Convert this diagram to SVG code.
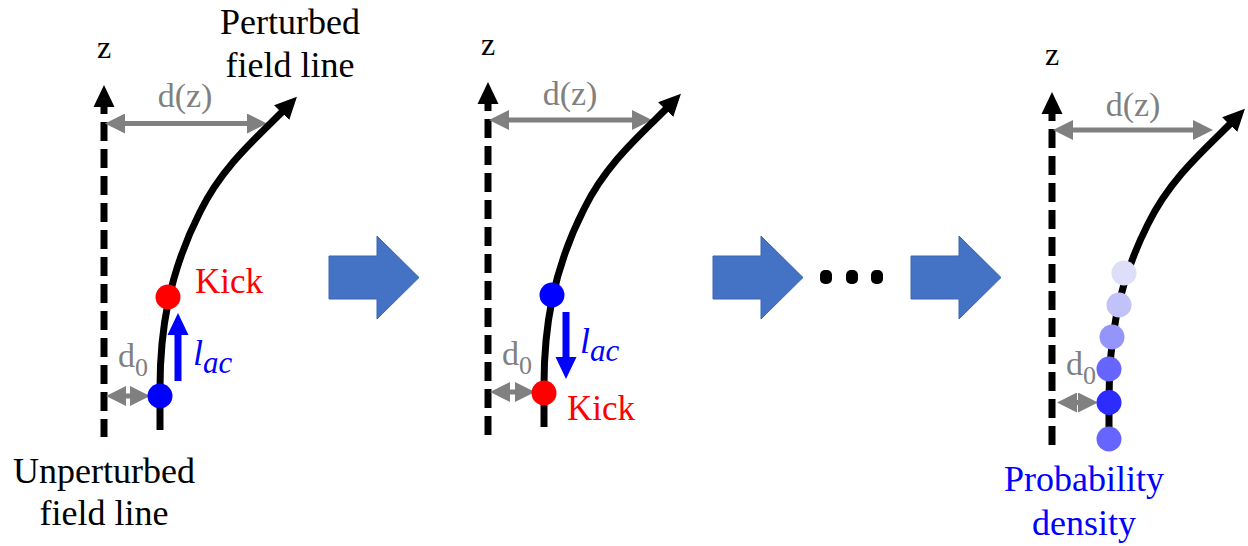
<svg xmlns="http://www.w3.org/2000/svg" width="1248" height="546" viewBox="0 0 1248 546">
<defs>
<style>
.t{font-family:"Liberation Serif","Times New Roman",serif;fill:#000}
.lbl{font-size:36px}
.kick{font-size:35px;fill:#ff0000}
.z{font-size:32px}
.dz{font-size:34px;fill:#808080}
.d0{font-size:34px;fill:#808080}
.lac{font-size:36px;fill:#0000ff;font-style:italic}
.blue{fill:#0000ff}
.axis{stroke:#000;stroke-width:7;fill:none;stroke-dasharray:19 8}
.curve{stroke:#000;stroke-width:7;fill:none}
.dim{stroke:#808080;stroke-width:5;fill:none}
.lacarrow{stroke:#0000ff;stroke-width:7;fill:none}
.block{fill:#4472C4;stroke:#3A64B0;stroke-width:1}
</style>
<marker id="ahB" markerUnits="userSpaceOnUse" viewBox="0 -11 22 22" refX="12" refY="0" markerWidth="22" markerHeight="22" orient="auto-start-reverse">
<path d="M0,-10.5 L22,0 L0,10.5 z" fill="#000"/>
</marker>
<marker id="ahG" markerUnits="userSpaceOnUse" viewBox="0 -10 20 20" refX="11" refY="0" markerWidth="20" markerHeight="20" orient="auto-start-reverse">
<path d="M0,-10 L20,0 L0,10 z" fill="#808080"/>
</marker>
<marker id="ahL" markerUnits="userSpaceOnUse" viewBox="0 -11 22 22" refX="10" refY="0" markerWidth="22" markerHeight="22" orient="auto">
<path d="M0,-10.5 L22,0 L0,10.5 z" fill="#0000ff"/>
</marker>
</defs>

<!-- Panel 1 -->
<g id="panel1">
<text class="t z" x="104" y="58" text-anchor="middle">z</text>
<path class="axis" d="M104 95 L104 437" marker-start="url(#ahB)"/>
<text class="t dz" x="185" y="107" text-anchor="middle">d(z)</text>
<line class="dim" x1="114" y1="123.5" x2="258" y2="123.5" marker-start="url(#ahG)" marker-end="url(#ahG)"/>
<path class="curve" d="M160 430 L160 388 C160 333 168 275 200 212 C224 163 262 133 290 104" marker-end="url(#ahB)"/>
<text class="t d0" x="118" y="367">d<tspan font-size="26" dy="9">0</tspan></text>
<line class="dim" x1="115" y1="396" x2="141" y2="396" marker-start="url(#ahG)" marker-end="url(#ahG)"/>
<line class="lacarrow" x1="178" y1="381" x2="178" y2="325" marker-end="url(#ahL)"/>
<text class="t lac" x="193" y="365">l<tspan font-size="31" dy="8">ac</tspan></text>
<circle cx="168" cy="297" r="12.5" fill="#ff0000"/>
<circle cx="160" cy="396" r="12.5" fill="#0000ff"/>
<text class="t kick" x="195" y="293">Kick</text>
<text class="t lbl" x="290" y="34" text-anchor="middle">Perturbed</text>
<text class="t lbl" x="290" y="77" text-anchor="middle">field line</text>
<text class="t lbl" x="104" y="483" text-anchor="middle">Unperturbed</text>
<text class="t lbl" x="104" y="525" text-anchor="middle">field line</text>
</g>

<!-- Panel 2 -->
<g id="panel2">
<text class="t z" x="488" y="55" text-anchor="middle">z</text>
<path class="axis" d="M488 92 L488 435" marker-start="url(#ahB)"/>
<text class="t dz" x="570" y="105" text-anchor="middle">d(z)</text>
<line class="dim" x1="498" y1="120" x2="643" y2="120" marker-start="url(#ahG)" marker-end="url(#ahG)"/>
<path class="curve" d="M544 427 L544 385 C544 330 552 272 584 209 C608 160 646 130 674 101" marker-end="url(#ahB)"/>
<text class="t d0" x="502" y="365">d<tspan font-size="26" dy="9">0</tspan></text>
<line class="dim" x1="499" y1="392" x2="526" y2="392" marker-start="url(#ahG)" marker-end="url(#ahG)"/>
<line class="lacarrow" x1="566" y1="312" x2="566" y2="367" marker-end="url(#ahL)"/>
<text class="t lac" x="580" y="353">l<tspan font-size="31" dy="8">ac</tspan></text>
<circle cx="552" cy="295" r="12.5" fill="#0000ff"/>
<circle cx="544" cy="393" r="12.5" fill="#ff0000"/>
<text class="t kick" x="567" y="420">Kick</text>
</g>

<!-- Panel 3 -->
<g id="panel3">
<text class="t z" x="1052" y="65" text-anchor="middle">z</text>
<path class="axis" d="M1052 102 L1052 445" marker-start="url(#ahB)"/>
<text class="t dz" x="1133" y="116" text-anchor="middle">d(z)</text>
<line class="dim" x1="1062" y1="130" x2="1204" y2="130" marker-start="url(#ahG)" marker-end="url(#ahG)"/>
<path class="curve" d="M1109 440 L1109 400 C1109 345 1116 287 1148 224 C1172 175 1210 145 1238 116" marker-end="url(#ahB)"/>
<text class="t d0" x="1066" y="375">d<tspan font-size="26" dy="9">0</tspan></text>
<line class="dim" x1="1066" y1="402.5" x2="1089" y2="402.5" marker-start="url(#ahG)" marker-end="url(#ahG)"/>
<circle cx="1124" cy="273" r="12.5" fill="#dedef8"/>
<circle cx="1119" cy="305" r="12.5" fill="#c2c2fa"/>
<circle cx="1112" cy="337" r="12.5" fill="#9494fa"/>
<circle cx="1109" cy="369" r="12.5" fill="#6666ff"/>
<circle cx="1109" cy="402.5" r="12.5" fill="#2c2cff"/>
<circle cx="1109" cy="439" r="12.5" fill="#6666ff"/>
<text class="t lbl blue" x="1084" y="491" text-anchor="middle">Probability</text>
<text class="t lbl blue" x="1084" y="535" text-anchor="middle">density</text>
</g>

<!-- Connectors -->
<g id="connectors">
<path class="block" d="M329 256 L377 256 L377 236 L419 277.5 L377 319 L377 299 L329 299 z"/>
<path class="block" d="M713 256 L761 256 L761 236 L803 277.5 L761 319 L761 299 L713 299 z"/>
<path class="block" d="M911 256 L959 256 L959 236 L1001 277.5 L959 319 L959 299 L911 299 z"/>
<rect x="820" y="270" width="12" height="14" rx="5" fill="#000"/>
<rect x="846" y="270" width="12" height="14" rx="5" fill="#000"/>
<rect x="871" y="270" width="12" height="14" rx="5" fill="#000"/>
</g>
</svg>
